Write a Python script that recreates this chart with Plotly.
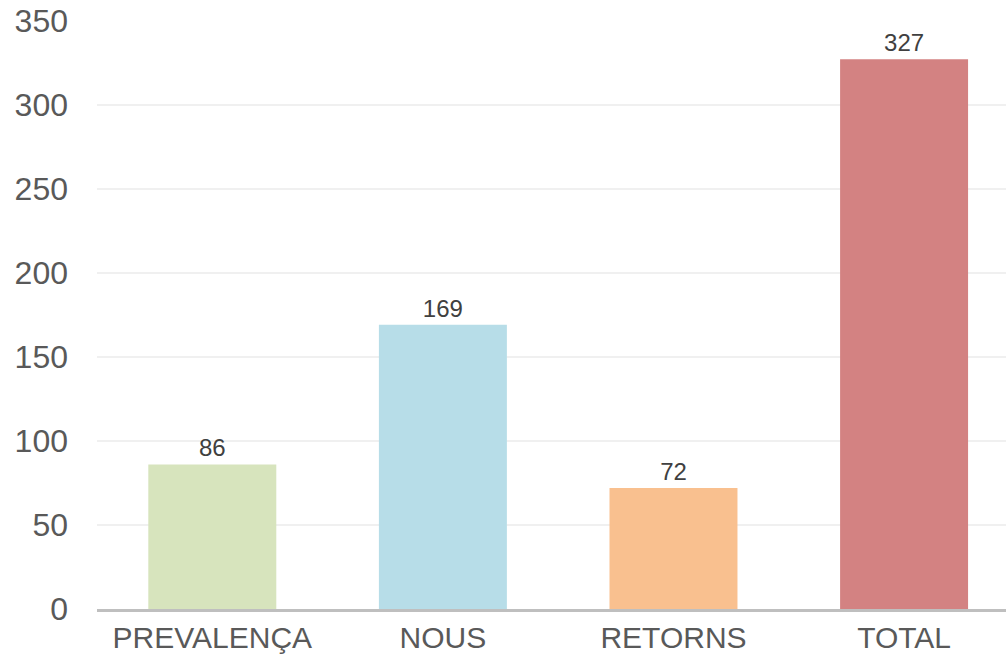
import plotly.graph_objects as go

categories = ["PREVALENÇA", "NOUS", "RETORNS", "TOTAL"]
values = [86, 169, 72, 327]
colors = ["#d7e4bd", "#b7dde8", "#f9c08f", "#d38282"]
y_ticks = [0, 50, 100, 150, 200, 250, 300, 350]

fig = go.Figure(go.Bar(
    x=categories, y=values,
    marker=dict(color=colors, line=dict(width=0)),
    width=0.555,
    text=[str(v) for v in values],
    textposition="outside",
    textfont=dict(family="Liberation Sans, Arial", size=24, color="#404040"),
    cliponaxis=False,
    hoverinfo="skip",
))

fig.update_layout(
    width=1006, height=662,
    margin=dict(l=97, r=0, t=20, b=53, autoexpand=False),
    paper_bgcolor="white", plot_bgcolor="white",
    showlegend=False,
    font=dict(family="Liberation Sans, Arial", color="#595959"),
    xaxis=dict(
        range=[-0.5, 3.442],
        tickfont=dict(size=30, color="#595959"),
        showgrid=False,
        showline=True, linecolor="#bfbfbf", linewidth=2.5,
        ticks="", automargin=False,
    ),
    yaxis=dict(
        range=[0, 350.3],
        tickvals=y_ticks,
        tickfont=dict(size=32, color="#595959"),
        showgrid=True, gridcolor="#f0f0f0", gridwidth=1.5,
        zeroline=False, ticks="", ticklabelstandoff=28, automargin=False,
    ),
)

fig.write_html(
    "out.html",
    config={"displayModeBar": False},
    post_script="document.body.style.margin='0';document.body.style.overflow='hidden';",
)
